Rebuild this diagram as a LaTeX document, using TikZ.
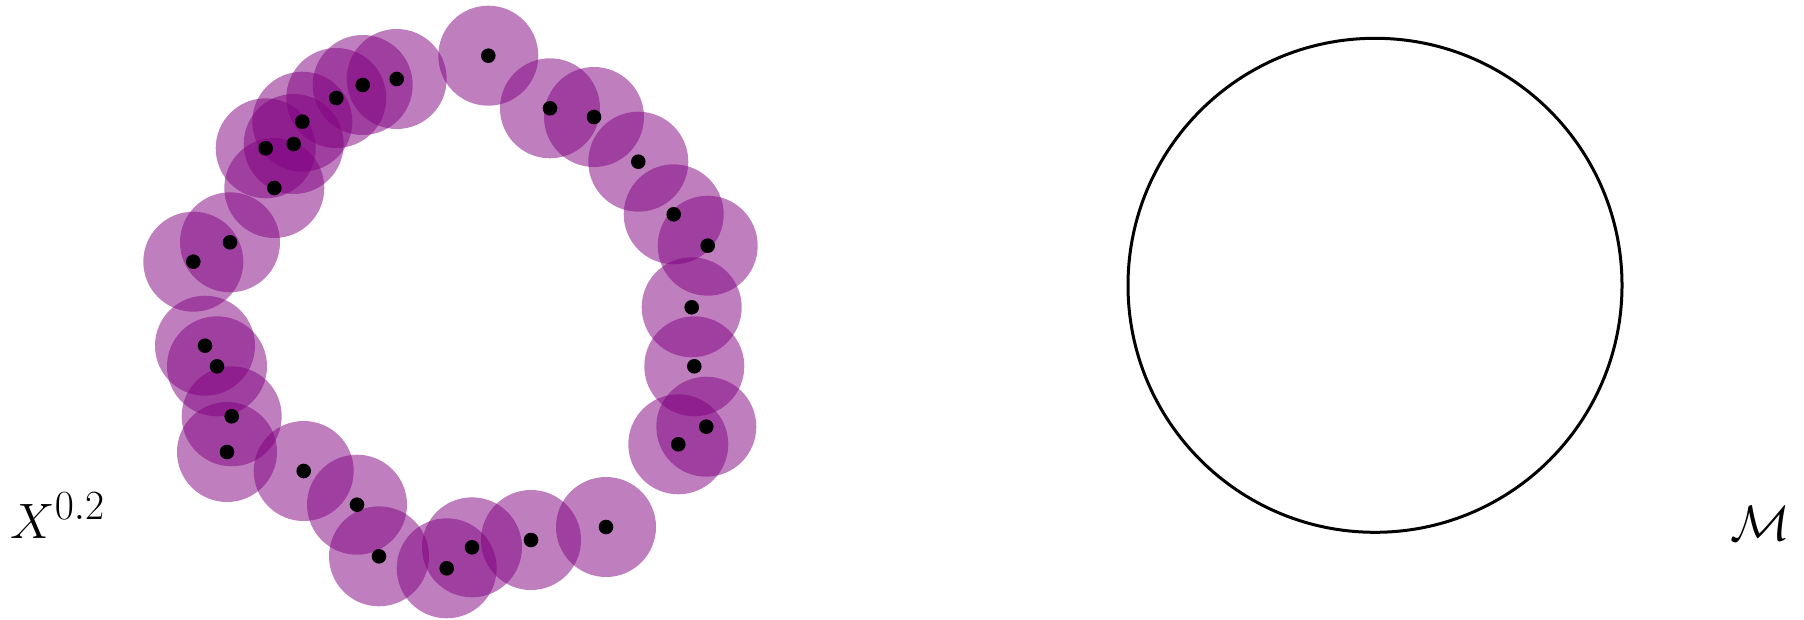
\documentclass[tikz,border=0pt]{standalone}
\usepackage{amsmath}
\definecolor{ballpurple}{RGB}{128,0,128}
\begin{document}
\begin{tikzpicture}[x=0.5pt,y=-0.5pt,
  ball/.style={fill=ballpurple,fill opacity=0.5,draw=none},
  pt/.style={fill=black,draw=none},
  manifold/.style={draw=black,line width=1.5pt},
  lbl/.style={inner sep=0pt,font=\fontsize{28}{33}\selectfont}]
\useasboundingbox (0,0) rectangle (1804,620);
\def\pts{488.3/55.7, 550/108.3, 594/117, 638.3/161.7, 673.7/214.3, 707.7/245.7,
  691.7/307.3, 694.3/366.3, 706.3/426.7, 678.3/444.3, 606/527, 531/540,
  472/547.3, 446.7/568.3, 379/556.3, 357/504.7, 303.7/471, 227/452,
  231.7/416.3, 217/366.3, 205/345.7, 193.3/261.7, 230/242.3, 274.3/188,
  265.7/148.3, 293.7/144, 302.3/121.7, 336.3/98, 362.7/85, 396.7/79}
\foreach \px/\py in \pts { \fill[ball] (\px,\py) circle[radius=50]; }
\foreach \px/\py in \pts { \fill[pt] (\px,\py) circle[radius=7.3]; }
\draw[manifold] (1375,285.3) circle[radius=247];
\node[lbl,anchor=base west] (xlab) at (10,538) {$X^{0.2}$};
\node[lbl,anchor=base west] (mlab) at (1730,540) {$\mathcal{M}$};
\end{tikzpicture}
\end{document}
